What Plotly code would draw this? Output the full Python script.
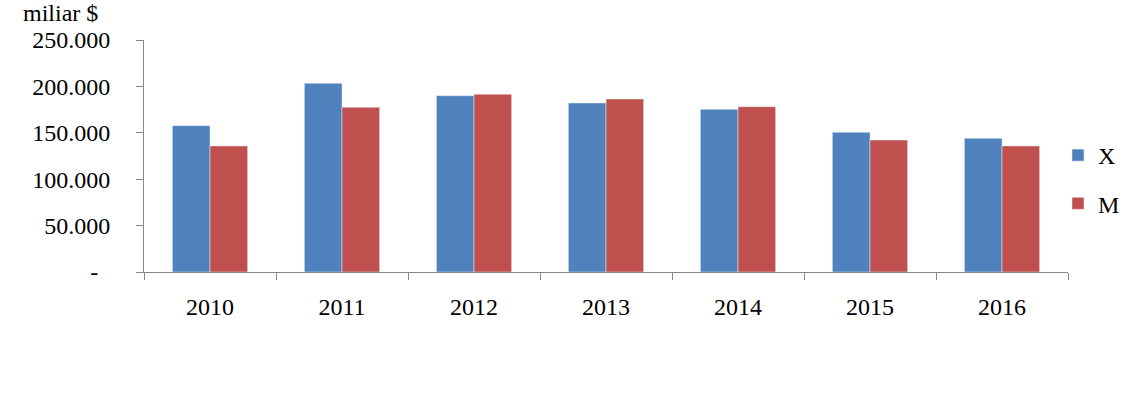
import plotly.graph_objects as go

years = ["2010", "2011", "2012", "2013", "2014", "2015", "2016"]
x_values = [157700, 203300, 190000, 182100, 175300, 150500, 144000]
m_values = [135800, 177500, 191500, 186400, 178100, 142200, 135800]
y_tickvals = [0, 50000, 100000, 150000, 200000, 250000]
y_ticktext = ["-\u00a0\u00a0", "50.000", "100.000", "150.000", "200.000", "250.000"]

FONT = "Liberation Serif, Times New Roman, serif"
AXIS = "#868686"

fig = go.Figure()
fig.add_trace(go.Bar(x=years, y=x_values, name="X", marker_color="#4F81BD",
                     legendgroup="x"))
fig.add_trace(go.Bar(x=years, y=m_values, name="M", marker_color="#C0504D",
                     legendgroup="m"))

fig.update_layout(
    width=1138, height=397,
    margin=dict(l=144, r=70, t=40, b=125, autoexpand=False),
    paper_bgcolor="white", plot_bgcolor="white",
    font=dict(family=FONT, size=24, color="#000000"),
    barmode="group", bargap=0.43, bargroupgap=0,
    showlegend=True,
    legend=dict(xref="container", yref="container",
                x=1058 / 1138, y=1 - 133 / 397, xanchor="left", yanchor="top",
                font=dict(size=24), traceorder="grouped", tracegroupgap=14,
                itemwidth=30, bgcolor="rgba(0,0,0,0)"),
    xaxis=dict(showline=True, linecolor=AXIS, linewidth=1, ticks="outside",
               tickson="boundaries", ticklen=7, tickcolor=AXIS,
               showgrid=False, ticklabelstandoff=13),
    yaxis=dict(range=[0, 250000], tickvals=y_tickvals, ticktext=y_ticktext,
               showline=True, linecolor=AXIS, linewidth=1, ticks="outside",
               ticklen=7, tickcolor=AXIS, showgrid=False, zeroline=False,
               ticklabelstandoff=21),
    annotations=[dict(text="miliar $", xref="paper", yref="paper",
                      x=-0.133, y=1.0, xanchor="left", yanchor="bottom",
                      yshift=12, showarrow=False, font=dict(size=24))],
)

fig.write_html("out.html")
